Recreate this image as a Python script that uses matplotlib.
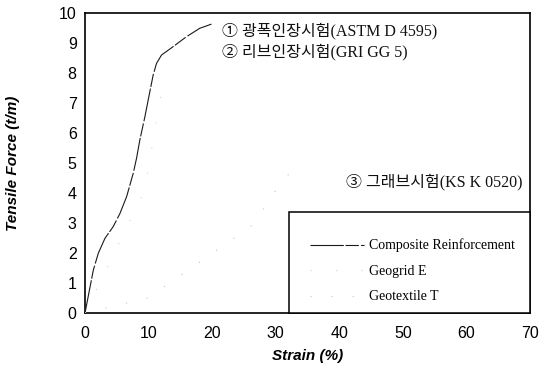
import numpy as np
import matplotlib
matplotlib.use("Agg")
from matplotlib import pyplot as plt
from matplotlib.patches import Rectangle

# strain (%) vs tensile force (t/m)
composite_strain = [0, 1.31, 2.09, 3.14, 4.44, 5.5, 6.55, 7.59, 8.12, 8.63, 9.42,
                    9.94, 10.72, 11.25, 12.04, 13.87, 15.96, 18.05, 19.9]
composite_force = [0, 1.43, 1.99, 2.49, 2.88, 3.32, 3.88, 4.66, 5.17, 5.77, 6.54,
                   7.1, 7.93, 8.32, 8.6, 8.88, 9.21, 9.49, 9.63]

geogrid_strain = [0, 9.31, 12.4]
geogrid_force = [0, 4.04, 7.8]

geotextile_strain = [0, 9.69, 10.47, 11.51, 24.76, 26.53, 31.1, 32.2, 33.2]
geotextile_force = [0, 0.49, 0.57, 0.73, 2.69, 2.97, 4.43, 4.66, 4.77]

series_labels = ["Composite Reinforcement", "Geogrid E", "Geotextile T"]
test_labels = ["\u2460 광폭인장시험(ASTM D 4595)",
               "\u2461 리브인장시험(GRI GG 5)",
               "\u2462 그래브시험(KS K 0520)"]

x_ticks = np.arange(0, 71, 10)
y_ticks = np.arange(0, 11, 1)

fig = plt.figure(figsize=(5.46, 3.76), dpi=100)
ax = fig.add_axes([85 / 546, 63 / 376, 445 / 546, 300 / 376])

ax.plot(composite_strain, composite_force, color="#1a1a1a", linewidth=0.8,
        dashes=(30, 1.5, 12, 2), label=series_labels[0], zorder=4)
ax.plot(geogrid_strain, geogrid_force, color="#d4d4d4", linewidth=0.8,
        dashes=(1, 22), label=series_labels[1], zorder=4)
ax.plot(geotextile_strain, geotextile_force, color="#c4c4c4", linewidth=0.8,
        dashes=(1, 18), label=series_labels[2], zorder=4)

ax.set_xlim(0, 70)
ax.set_ylim(0, 10)
ax.set_xticks(x_ticks)
ax.set_yticks(y_ticks)
ax.tick_params(axis="both", length=0, labelsize=11.5,
               labelfontfamily="Liberation Sans")
ax.tick_params(axis="x", pad=9)
ax.tick_params(axis="y", pad=6)
for sp in ax.spines.values():
    sp.set_linewidth(1.2)
    sp.set_color("black")

lab_font = dict(family="Liberation Sans", fontsize=11, fontweight="bold",
                fontstyle="italic")
ax.set_xlabel("Strain (%)", labelpad=6, **lab_font)
ax.set_ylabel("Tensile Force (t/m)", **lab_font)
ax.yaxis.set_label_coords(-0.145, 0.5)

# test method notes
note_font = dict(family=["Liberation Serif", "Noto Sans CJK KR"], fontsize=11.5,
                 color="#111111", va="center")
ax.text(21.55, 9.4, test_labels[0], ha="left", **note_font)
ax.text(21.55, 8.7, test_labels[1], ha="left", **note_font)
ax.text(68.8, 4.37, test_labels[2], ha="right", **note_font)

# legend box sitting on the x axis
ax.add_patch(Rectangle((32.1, 0), 37.9, 3.37, facecolor="white",
                       edgecolor="black", linewidth=1.1, zorder=5,
                       clip_on=False))
leg = ax.legend(loc="center left", bbox_to_anchor=(34.3, 1.4),
                bbox_transform=ax.transData, frameon=False, borderpad=0,
                handlelength=3.9, handletextpad=0.35, labelspacing=0.9,
                prop={"family": "Liberation Serif", "size": 10})
leg.set_zorder(6)

fig.savefig("out.png", dpi=100)
